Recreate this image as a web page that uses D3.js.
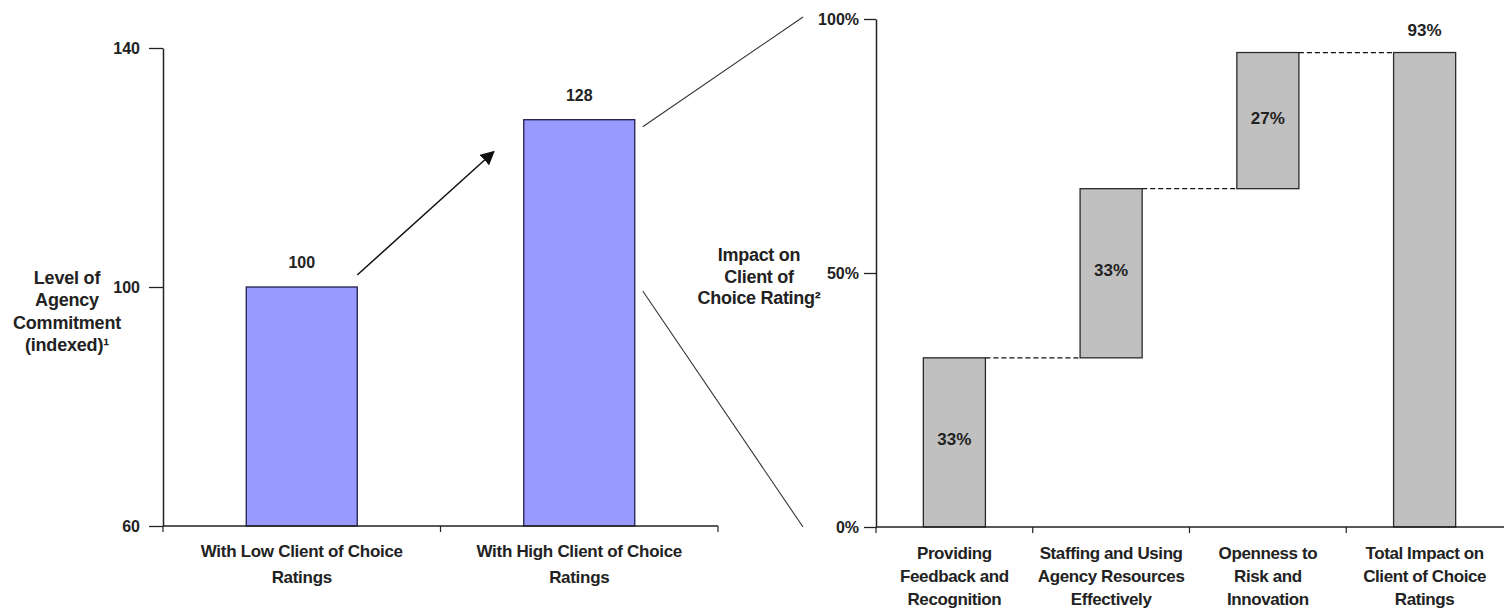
<!DOCTYPE html>
<html><head><meta charset="utf-8">
<script src="https://cdn.jsdelivr.net/npm/d3@7"></script>
<style>
body{margin:0;background:#fff}
text{font-family:"Liberation Sans",Arial,sans-serif;font-weight:bold;fill:#222}
</style>
</head><body><svg id="c" width="1504" height="608"></svg>
<script>
// ---- data ----
const leftCategories = [["With Low Client of Choice","Ratings"],["With High Client of Choice","Ratings"]];
const leftValues = [100, 128];
const leftTicks = [60, 100, 140];
const leftTitle = ["Level of","Agency","Commitment","(indexed)\u00B9"];

const rightCategories = [["Providing","Feedback and","Recognition"],["Staffing and Using","Agency Resources","Effectively"],["Openness to","Risk and","Innovation"],["Total Impact on","Client of Choice","Ratings"]];
const rightSteps = [0.333, 0.333, 0.268];
const rightTicks = [0, 0.5, 1];
const rightTitle = ["Impact on","Client of","Choice Rating\u00B2"];

// ---- chart ----
const svg = d3.select("#c");
const ink = "#222";

// left scales
const xL = d3.scaleBand().domain(d3.range(leftValues.length)).range([163, 718]).padding(0);
const yL = d3.scaleLinear().domain([60, 140]).range([526, 48]);
const bwL = xL.bandwidth() * 0.4;

// right scales
const xR = d3.scaleBand().domain(d3.range(rightCategories.length)).range([876, 1503]).padding(0);
const yR = d3.scaleLinear().domain([0, 1]).range([527, 19]);
const bwR = xR.bandwidth() * 0.396;

// ---- left bars ----
const gL = svg.append("g");
leftValues.forEach((v, i) => {
  const cx = xL(i) + xL.bandwidth() / 2;
  gL.append("rect").attr("x", cx - bwL / 2).attr("y", yL(v))
    .attr("width", bwL).attr("height", yL(60) - yL(v))
    .attr("fill", "#9999ff").attr("stroke", "#1f1f4a").attr("stroke-width", 1.3);
  gL.append("text").attr("x", cx).attr("y", yL(v) - 19).attr("text-anchor", "middle")
    .attr("font-size", 16).text(v);
});

// left y axis
const axL = svg.append("g").attr("transform", `translate(163,0)`)
  .call(d3.axisLeft(yL).tickValues(leftTicks).tickSize(14).tickPadding(9).tickSizeOuter(0));
axL.select(".domain").attr("stroke", ink).attr("stroke-width", 1.5);
axL.selectAll(".tick line").attr("stroke", ink).attr("stroke-width", 1.3);
axL.selectAll(".tick text").attr("font-size", 16).attr("fill", ink)
  .attr("font-family", "Liberation Sans, Arial, sans-serif").attr("font-weight", "bold");

// left x axis
svg.append("line").attr("x1", xL.range()[0]).attr("x2", xL.range()[1])
  .attr("y1", yL(60)).attr("y2", yL(60)).attr("stroke", ink).attr("stroke-width", 1.5);
d3.range(leftValues.length + 1).forEach(i => {
  const x = xL.range()[0] + i * xL.step();
  svg.append("line").attr("x1", x).attr("x2", x).attr("y1", yL(60)).attr("y2", yL(60) + 6)
    .attr("stroke", ink).attr("stroke-width", 1.2);
});
leftCategories.forEach((lines, i) => {
  const cx = xL(i) + xL.bandwidth() / 2;
  lines.forEach((t, j) => {
    svg.append("text").attr("x", cx).attr("y", 557 + j * 26).attr("text-anchor", "middle")
      .attr("font-size", 17).attr("letter-spacing", -0.3).text(t);
  });
});
leftTitle.forEach((t, j) => {
  svg.append("text").attr("x", 67).attr("y", 284 + j * 22.3).attr("text-anchor", "middle")
    .attr("font-size", 18).attr("letter-spacing", -0.2).text(t);
});

// ---- right (waterfall) ----
let cum = 0;
const wf = rightSteps.map(v => { const s = cum; cum += v; return { start: s, end: cum, v }; });
wf.push({ start: 0, end: cum, v: cum, total: true });

const gR = svg.append("g");
wf.forEach((d, i) => {
  const cx = xR(i) + xR.bandwidth() / 2;
  gR.append("rect").attr("x", cx - bwR / 2).attr("y", yR(d.end))
    .attr("width", bwR).attr("height", yR(d.start) - yR(d.end))
    .attr("fill", "#c0c0c0").attr("stroke", "#2a2a2a").attr("stroke-width", 1.3);
  if (d.total) {
    gR.append("text").attr("x", cx).attr("y", yR(d.end) - 17).attr("text-anchor", "middle")
      .attr("font-size", 17).text(d3.format(".0%")(d.v));
  } else {
    gR.append("text").attr("x", cx).attr("y", (yR(d.start) + yR(d.end)) / 2 + 3).attr("text-anchor", "middle")
      .attr("font-size", 17).text(d3.format(".0%")(d.v));
  }
  if (i < wf.length - 1) {
    const nx = xR(i + 1) + xR.bandwidth() / 2 - bwR / 2;
    gR.append("line").attr("x1", cx + bwR / 2).attr("x2", nx)
      .attr("y1", yR(d.end)).attr("y2", yR(d.end))
      .attr("stroke", "#111").attr("stroke-width", 1.2).attr("stroke-dasharray", "5,3");
  }
});

// right y axis
const axR = svg.append("g").attr("transform", `translate(876,0)`)
  .call(d3.axisLeft(yR).tickValues(rightTicks).tickFormat(d3.format(".0%")).tickSize(12).tickPadding(5).tickSizeOuter(0));
axR.select(".domain").attr("stroke", ink).attr("stroke-width", 1.5);
axR.selectAll(".tick line").attr("stroke", ink).attr("stroke-width", 1.3);
axR.selectAll(".tick text").attr("font-size", 16).attr("fill", ink)
  .attr("font-family", "Liberation Sans, Arial, sans-serif").attr("font-weight", "bold");

// right x axis
svg.append("line").attr("x1", xR.range()[0]).attr("x2", 1504)
  .attr("y1", yR(0)).attr("y2", yR(0)).attr("stroke", ink).attr("stroke-width", 1.5);
d3.range(rightCategories.length).forEach(i => {
  const x = xR.range()[0] + i * xR.step();
  svg.append("line").attr("x1", x).attr("x2", x).attr("y1", yR(0)).attr("y2", yR(0) + 6)
    .attr("stroke", ink).attr("stroke-width", 1.2);
});
rightCategories.forEach((lines, i) => {
  const cx = xR(i) + xR.bandwidth() / 2;
  lines.forEach((t, j) => {
    svg.append("text").attr("x", cx).attr("y", 559 + j * 23).attr("text-anchor", "middle")
      .attr("font-size", 17).attr("letter-spacing", -0.4).text(t);
  });
});
rightTitle.forEach((t, j) => {
  svg.append("text").attr("x", 759).attr("y", 261 + j * 21.5).attr("text-anchor", "middle")
    .attr("font-size", 18).attr("letter-spacing", -0.3).text(t);
});

// ---- annotations ----
const defs = svg.append("defs");
defs.append("marker").attr("id", "ah").attr("viewBox", "0 0 10 10").attr("refX", 9).attr("refY", 5)
  .attr("markerWidth", 14).attr("markerHeight", 14).attr("markerUnits", "userSpaceOnUse").attr("orient", "auto")
  .append("path").attr("d", "M0,0L10,5L0,10z").attr("fill", "#111");

const b1Right = xL(0) + xL.bandwidth() / 2 + bwL / 2;
const b2Left = xL(1) + xL.bandwidth() / 2 - bwL / 2;
const b2Right = xL(1) + xL.bandwidth() / 2 + bwL / 2;
svg.append("line").attr("x1", b1Right).attr("y1", yL(leftValues[0]) - 12)
  .attr("x2", b2Left - 30).attr("y2", yL(leftValues[1]) + 32)
  .attr("stroke", "#111").attr("stroke-width", 1.5).attr("marker-end", "url(#ah)");

svg.append("line").attr("x1", b2Right + 8).attr("y1", yL(leftValues[1]) + 7)
  .attr("x2", 876 - 73).attr("y2", yR(1) - 2).attr("stroke", "#333").attr("stroke-width", 1.1);
svg.append("line").attr("x1", b2Right + 8).attr("y1", yL(leftValues[0]) + 4)
  .attr("x2", 876 - 73).attr("y2", yR(0)).attr("stroke", "#333").attr("stroke-width", 1.1);
</script>
</body></html>
